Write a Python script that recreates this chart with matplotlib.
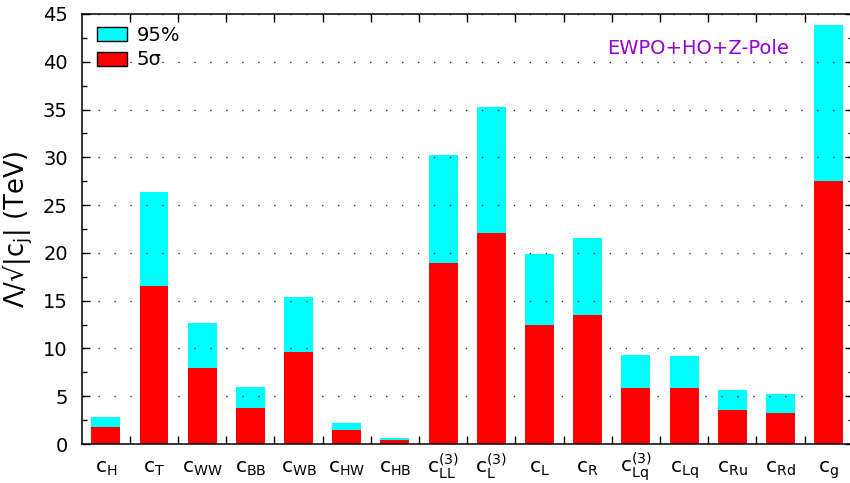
import numpy as np
import matplotlib
matplotlib.use("Agg")
import matplotlib.pyplot as plt
from matplotlib.patches import Patch

# --- data ---
labels = [r"$\mathregular{c_{H}}$", r"$\mathregular{c_{T}}$", r"$\mathregular{c_{WW}}$",
          r"$\mathregular{c_{BB}}$", r"$\mathregular{c_{WB}}$", r"$\mathregular{c_{HW}}$",
          r"$\mathregular{c_{HB}}$", r"$\mathregular{c_{LL}^{(3)}}$", r"$\mathregular{c_{L}^{(3)}}$",
          r"$\mathregular{c_{L}}$", r"$\mathregular{c_{R}}$", r"$\mathregular{c_{Lq}^{(3)}}$",
          r"$\mathregular{c_{Lq}}$", r"$\mathregular{c_{Ru}}$", r"$\mathregular{c_{Rd}}$",
          r"$\mathregular{c_{g}}$"]
cl95 = [2.82, 26.4, 12.66, 5.96, 15.38, 2.2, 0.63, 30.2, 35.25, 19.87, 21.55, 9.31, 9.2, 5.65, 5.23, 43.83]
sig5 = [1.78, 16.5, 7.95, 3.77, 9.62, 1.46, 0.42, 18.9, 22.07, 12.45, 13.49, 5.86, 5.86, 3.56, 3.24, 27.5]

CYAN, RED, PURPLE = "#00FFFF", "#FF0000", "#9400D3"

plt.rcParams["mathtext.fontset"] = "dejavusans"
fig = plt.figure(figsize=(8.5, 4.83), dpi=100)
ax = fig.add_axes([81.7 / 850, 39 / 483, 771 / 850, 430 / 483])

x = np.arange(len(labels))
ax.bar(x, cl95, width=0.6, color=CYAN, zorder=1)
ax.bar(x, sig5, width=0.6, color=RED, zorder=2)

ax.set_xlim(-0.5, 15.5)
ax.set_ylim(0, 45)

# gnuplot-ish axes: ticks inside, mirrored, boundaries as major x ticks
ax.set_xticks(x[:-1] + 0.5)
ax.set_xticklabels([])
ax.set_xticks(x, minor=True)
ax.set_xticklabels(labels, minor=True, fontsize=14.5, va="baseline")
ax.tick_params(axis="x", which="minor", length=0, pad=21)
ax.tick_params(axis="x", which="major", direction="in", length=6, width=1.0, top=True)
ax.set_yticks(np.arange(0, 46, 5))
ax.set_yticks(np.arange(0, 45, 2.5), minor=True)
ax.tick_params(axis="y", which="both", direction="in", right=True, width=1.0, labelsize=14, pad=10)
ax.tick_params(axis="y", which="major", length=6)
ax.tick_params(axis="y", which="minor", length=3.5)
for s in ax.spines.values():
    s.set_linewidth(1.1)

ax.set_axisbelow("line")
ax.yaxis.grid(True, linestyle=(0, (1, 10.5)), color="#333333", linewidth=1.0)

ax.set_ylabel("Λ/√|c$_\\mathregular{j}$| (TeV)", fontsize=18.5)
ax.yaxis.set_label_coords((35 - 81.7) / 771, 0.5)

ax.text(0.7995, 0.919, "EWPO+HO+Z-Pole", color=PURPLE, fontsize=14,
        ha="center", va="center", transform=ax.transAxes)

handles = [Patch(facecolor=CYAN, edgecolor="black", linewidth=1.0, label="95%"),
           Patch(facecolor=RED, edgecolor="black", linewidth=1.0, label="5σ")]
ax.legend(handles=handles, loc="upper left", bbox_to_anchor=(0.0195, 0.973), frameon=False,
          fontsize=14, borderpad=0, borderaxespad=0, handlelength=1.55, handleheight=0.72,
          handletextpad=0.5, labelspacing=0.3)

fig.savefig("out.png", dpi=100)
